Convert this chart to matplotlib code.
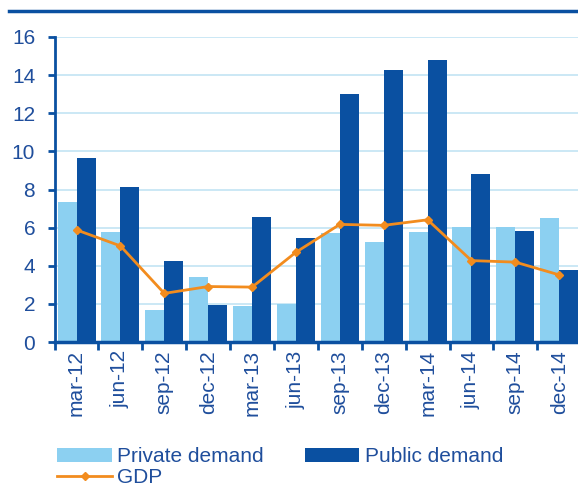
import matplotlib
matplotlib.use('Agg')
import matplotlib.pyplot as plt
import numpy as np

# quarterly data
quarters = ['mar-12', 'jun-12', 'sep-12', 'dec-12', 'mar-13', 'jun-13',
            'sep-13', 'dec-13', 'mar-14', 'jun-14', 'sep-14', 'dec-14']
private_demand = [7.36, 5.79, 1.68, 3.39, 1.89, 2.01, 5.71, 5.27, 5.77, 6.01, 6.01, 6.50]
public_demand = [9.64, 8.11, 4.27, 1.93, 6.55, 5.45, 13.0, 14.26, 14.79, 8.82, 5.80, 3.79]
gdp = [5.88, 5.04, 2.55, 2.91, 2.88, 4.71, 6.17, 6.12, 6.41, 4.27, 4.19, 3.52]

LIGHT = '#8cd0f1'
DARK = '#0a50a1'
ORANGE = '#f28c1e'
TEXT = '#1f4e9c'
GRID = '#c2e4f3'

plt.rcParams['font.family'] = ['Liberation Sans', 'DejaVu Sans']

fig = plt.figure(figsize=(5.78, 4.87), dpi=100)
ax = fig.add_axes([54.6 / 578, 145 / 487, 526.6 / 578, 305 / 487])

x = np.arange(len(quarters))
w = 0.433
b1 = ax.bar(x, private_demand, width=-w, align='edge', color=LIGHT, zorder=2)
b2 = ax.bar(x, public_demand, width=w, align='edge', color=DARK, zorder=2)
l1, = ax.plot(x, gdp, color=ORANGE, lw=2, marker='D', ms=4.5, zorder=3)

ax.set_xlim(-0.5, len(quarters) - 0.5)
ax.set_ylim(0, 16)
ax.set_yticks(range(0, 17, 2))
ax.yaxis.grid(True, color=GRID, lw=1.2, zorder=0)
ax.set_axisbelow(True)

ax.set_xticks(x)
ax.set_xticklabels(quarters, rotation=90)
ax.set_xticks(np.arange(-0.5, len(quarters), 1), minor=True)
ax.tick_params(axis='x', which='major', length=0, pad=6, labelsize=15, labelcolor=TEXT)
ax.tick_params(axis='x', which='minor', length=6, width=2, color=DARK, direction='out')
ax.tick_params(axis='y', length=5, width=2, color=DARK, pad=9, labelsize=15, labelcolor=TEXT)

for s in ['top', 'right']:
    ax.spines[s].set_visible(False)
ax.spines['left'].set_color(DARK)
ax.spines['left'].set_linewidth(2)
ax.spines['bottom'].set_color(DARK)
ax.spines['bottom'].set_linewidth(2.5)

# ncol=2 fills column-wise, so order handles to read Private, Public / GDP
leg = fig.legend([b1, l1, b2], ['Private demand', 'GDP', 'Public demand'],
                 loc='lower left', bbox_to_anchor=(0.085, -0.018), ncol=2, frameon=False,
                 fontsize=15, handlelength=2.6, handletextpad=0.25, columnspacing=2.0,
                 labelspacing=0.1, borderaxespad=0)
for t in leg.get_texts():
    t.set_color(TEXT)

# rule under the (cut-off) title
fig.add_artist(plt.Line2D([9 / 578, 1], [1 - 11 / 487, 1 - 11 / 487], color=DARK, lw=2.5))

fig.savefig('out.png', dpi=100)
